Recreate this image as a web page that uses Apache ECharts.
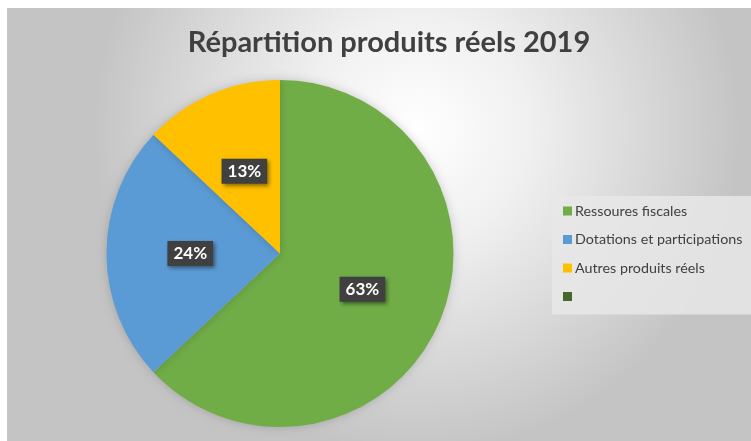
<!DOCTYPE html>
<html>
<head>
<meta charset="utf-8">
<script src="https://cdn.jsdelivr.net/npm/echarts@6/dist/echarts.min.js"></script>
<style>
html,body{margin:0;padding:0;background:#fff;}
#c{width:751px;height:441px;}
</style>
</head>
<body>
<div id="c"></div>
<script>
const titleText = 'Répartition produits réels 2019';
const categories = ['Ressoures fiscales', 'Dotations et participations', 'Autres produits réels', ' '];
const values = [63, 24, 13, 0];

const sliceColors = ['#70ad47', '#5b9bd5', '#ffc000', '#43682b'];

const chart = echarts.init(document.getElementById('c'), null, {renderer: 'canvas'});
const data = categories.map((n, i) => {
  const d = {name: n, value: values[i], itemStyle: {color: sliceColors[i]}};
  if (values[i] === 0) d.label = {show: false};
  return d;
});

chart.setOption({
  animation: false,
  backgroundColor: '#ffffff',
  graphic: [{
    type: 'rect', left: 7, top: 8, z: -10, silent: true,
    shape: {width: 744, height: 433},
    style: {
      fill: new echarts.graphic.RadialGradient(0.55, 0.28, 0.75, [
        {offset: 0, color: '#ffffff'},
        {offset: 0.35, color: '#f0f0f0'},
        {offset: 1, color: '#c4c4c4'}
      ])
    }
  }],
  title: {
    text: titleText,
    left: 384, top: 23, textAlign: 'center',
    textStyle: {fontFamily: 'Lato', fontWeight: 'bold', fontSize: 29, color: '#404040'}
  },
  legend: {
    orient: 'vertical',
    left: 552, top: 196,
    width: 199,
    backgroundColor: 'rgba(232,232,232,0.85)',
    padding: [8, 10, 11, 11],
    itemWidth: 9, itemHeight: 9,
    itemGap: 14.5,
    icon: 'rect',
    data: categories,
    textStyle: {fontFamily: 'Lato', fontSize: 14.3, color: '#404040', padding: [0, 0, 0, -2]}
  },
  series: [{
    type: 'pie',
    center: [280, 253.5],
    radius: 173.5,
    startAngle: 90,
    clockwise: true,
    avoidLabelOverlap: false,
    emphasis: {disabled: true},
    itemStyle: {shadowBlur: 10, shadowColor: 'rgba(0,0,0,0.18)'},
    label: {
      show: true,
      position: 'inside',
      formatter: '{d}%',
      fontFamily: 'Lato', fontWeight: 'bold', fontSize: 17, color: '#ffffff',
      backgroundColor: '#404040',
      padding: [5, 6, 3, 6],
      shadowBlur: 4, shadowOffsetX: 2, shadowOffsetY: 2, shadowColor: 'rgba(0,0,0,0.45)'
    },
    labelLine: {show: false},
    data: data
  }]
});
</script>
</body>
</html>
